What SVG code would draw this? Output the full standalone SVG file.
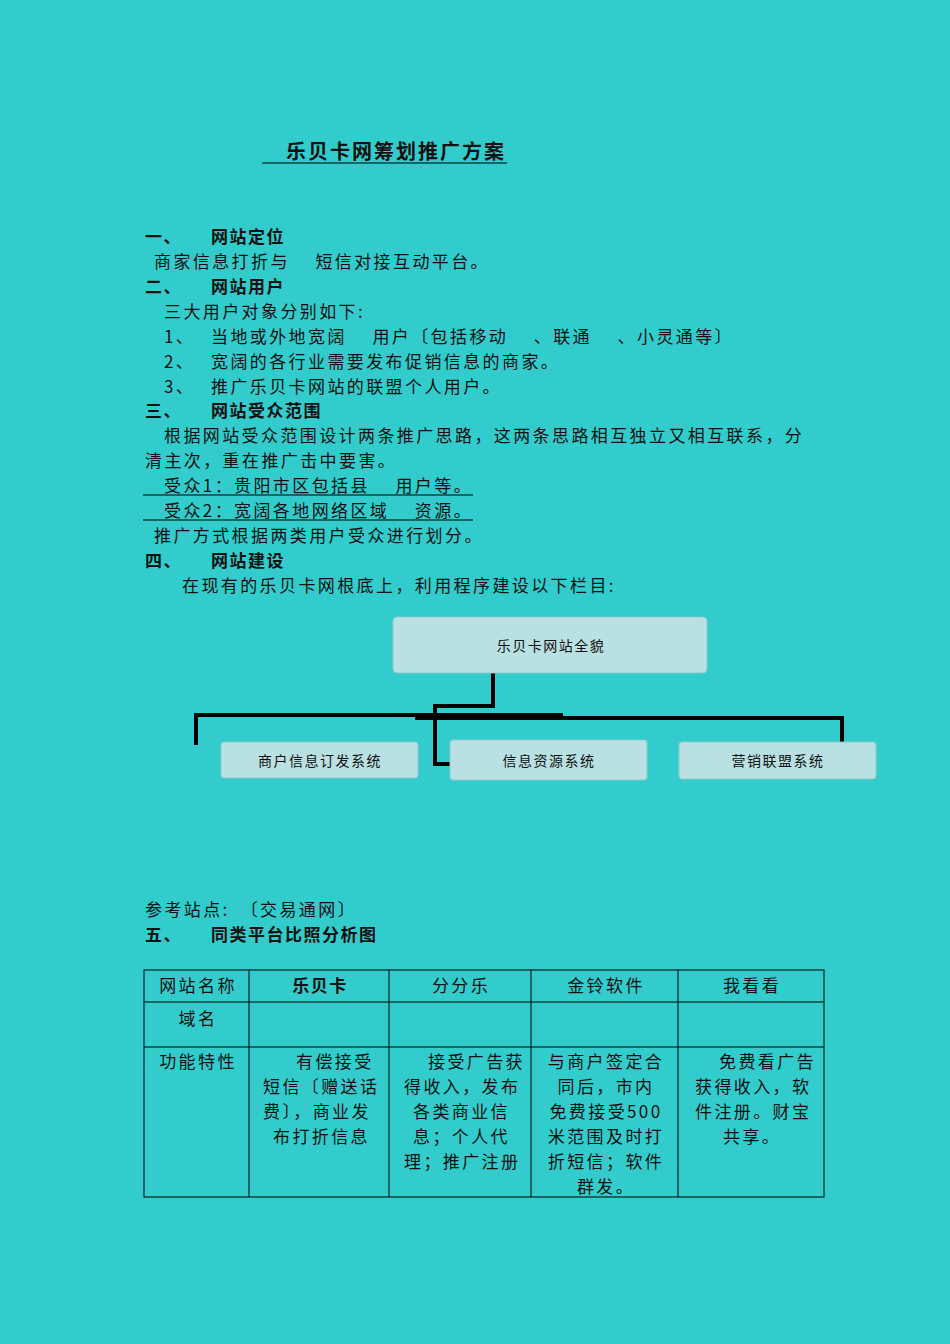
<svg xmlns="http://www.w3.org/2000/svg" width="950" height="1344" viewBox="0 0 950 1344">
<style>
text{font-family:"Noto Sans CJK SC","Liberation Serif",serif;fill:#111;font-size:17px;letter-spacing:2.4px}
.b{font-weight:bold;letter-spacing:1.5px}
.t{font-size:20px;letter-spacing:2px}
.s{font-size:14px;letter-spacing:1.5px}
.c{text-anchor:middle}
.box{fill:#b9e0e2;stroke:#8fc9cb;stroke-width:1}
.ln{fill:none;stroke:#000;stroke-width:4}
.tb{fill:none;stroke:#000;stroke-width:1}
</style>
<rect width="950" height="1344" fill="#33cccc"/>
<g id="text">
<text x="286" y="159" class="b t">乐贝卡网筹划推广方案</text>
<line x1="262" y1="163" x2="507" y2="163" stroke="#000" stroke-width="1.2"/>
<text x="145" y="243" class="b">一、</text><text x="211" y="243" class="b">网站定位</text>
<text x="154" y="268">商家信息打折与　 短信对接互动平台。</text>
<text x="145" y="293" class="b">二、</text><text x="211" y="293" class="b">网站用户</text>
<text x="164" y="318">三大用户对象分别如下:</text>
<text x="164" y="343">1、</text><text x="211" y="343">当地或外地宽阔　 用户〔包括移动　 、联通　 、小灵通等〕</text>
<text x="164" y="368">2、</text><text x="211" y="368">宽阔的各行业需要发布促销信息的商家。</text>
<text x="164" y="393">3、</text><text x="211" y="393">推广乐贝卡网站的联盟个人用户。</text>
<text x="145" y="417" class="b">三、</text><text x="211" y="417" class="b">网站受众范围</text>
<text x="164" y="442">根据网站受众范围设计两条推广思路，这两条思路相互独立又相互联系，分</text>
<text x="145" y="467">清主次，重在推广击中要害。</text>
<text x="164" y="492">受众1：贵阳市区包括县　 用户等。</text>
<line x1="143" y1="495" x2="473" y2="495" stroke="#000" stroke-width="1"/>
<text x="164" y="517">受众2：宽阔各地网络区域　 资源。</text>
<line x1="143" y1="520" x2="473" y2="520" stroke="#000" stroke-width="1"/>
<text x="154" y="542">推广方式根据两类用户受众进行划分。</text>
<text x="145" y="567" class="b">四、</text><text x="211" y="567" class="b">网站建设</text>
<text x="182" y="592">在现有的乐贝卡网根底上，利用程序建设以下栏目:</text>
<text x="145" y="916">参考站点:　〔交易通网〕</text>
<text x="145" y="941" class="b">五、</text><text x="211" y="941" class="b">同类平台比照分析图</text>
</g>
<g id="connectors">
<polyline class="ln" points="493,673 493,706 435,706 435,764 452,764"/>
<polyline class="ln" points="196,745 196,715 563,715"/>
<polyline class="ln" points="415,718 842,718 842,742"/>
</g>
<g id="node-root"><rect class="box" x="393" y="617" width="314" height="56" rx="4"/><text class="s c" x="551" y="651">乐贝卡网站全貌</text></g>
<g id="node-1"><rect class="box" x="221" y="742" width="197" height="36" rx="3"/><text class="s c" x="320" y="766">商户信息订发系统</text></g>
<g id="node-2"><rect class="box" x="450" y="740" width="197" height="40" rx="3"/><text class="s c" x="549" y="766">信息资源系统</text></g>
<g id="node-3"><rect class="box" x="679" y="742" width="197" height="37" rx="3"/><text class="s c" x="778" y="766">营销联盟系统</text></g>
<g id="table">
<rect class="tb" x="144" y="970" width="680" height="227"/>
<line class="tb" x1="144" y1="1002" x2="824" y2="1002"/>
<line class="tb" x1="144" y1="1047" x2="824" y2="1047"/>
<line class="tb" x1="249" y1="970" x2="249" y2="1197"/>
<line class="tb" x1="389" y1="970" x2="389" y2="1197"/>
<line class="tb" x1="531" y1="970" x2="531" y2="1197"/>
<line class="tb" x1="678" y1="970" x2="678" y2="1197"/>
<text class="c" x="198" y="992">网站名称</text>
<text class="c b" x="320" y="992">乐贝卡</text>
<text class="c" x="461" y="992">分分乐</text>
<text class="c" x="606" y="992">金铃软件</text>
<text class="c" x="752" y="992">我看看</text>
<text class="c" x="198" y="1025">域名</text>
<text class="c" x="198" y="1068">功能特性</text>
<text x="296" y="1068">有偿接受</text><text x="263" y="1093">短信〔赠送话</text><text x="263" y="1118">费〕，商业发</text><text x="273" y="1143">布打折信息</text>
<text x="428" y="1068">接受广告获</text><text x="404" y="1093">得收入，发布</text><text x="413" y="1118">各类商业信</text><text x="413" y="1143">息；个人代</text><text x="404" y="1168">理；推广注册</text>
<text class="c" x="606" y="1068">与商户签定合</text><text class="c" x="606" y="1093">同后，市内</text><text class="c" x="606" y="1118">免费接受500</text><text class="c" x="606" y="1143">米范围及时打</text><text class="c" x="606" y="1168">折短信；软件</text><text class="c" x="606" y="1193">群发。</text>
<text x="719" y="1068">免费看广告</text><text x="695" y="1093">获得收入，软</text><text x="695" y="1118">件注册。财宝</text><text x="723" y="1143">共享。</text>
</g>
</svg>
